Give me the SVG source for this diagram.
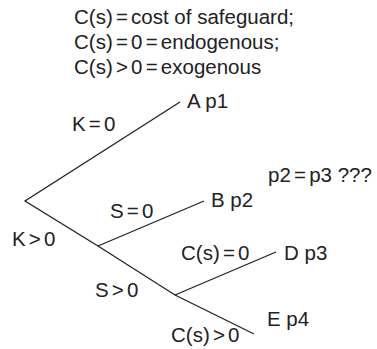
<svg xmlns="http://www.w3.org/2000/svg" width="377" height="349" viewBox="0 0 377 349">
<style>
text{font-family:"Liberation Sans",Arial,sans-serif;font-size:20.5px;fill:#222}
.op{word-spacing:-2.5px}
.e{stroke:#222;stroke-width:1.3;fill:none}
</style>
<rect width="377" height="349" fill="#fff"/>
<g id="legend">
<text x="74" y="24" class="op">C(s) = <tspan style="word-spacing:0">cost of safeguard;</tspan></text>
<text x="74" y="49" class="op">C(s) = 0 = endogenous;</text>
<text x="74" y="74" class="op">C(s) &gt; 0 = exogenous</text>
</g>
<g id="connectors">
<path class="e" d="M180,102 L25,201 L98,246 L175,295 L254,334"/>
<path class="e" d="M98,246 L204,201"/>
<path class="e" d="M175,295 L276,252"/>
</g>
<g id="edge-labels" class="op">
<text x="72" y="131">K = 0</text>
<text x="12" y="246">K &gt; 0</text>
<text x="110" y="218">S = 0</text>
<text x="95" y="297">S &gt; 0</text>
<text x="181" y="260">C(s) = 0</text>
<text x="171" y="342">C(s) &gt; 0</text>
</g>
<g id="nodeA"><text x="187" y="108">A p1</text></g>
<g id="nodeB"><text x="211" y="207">B p2</text></g>
<g id="nodeD"><text x="284" y="260">D p3</text></g>
<g id="nodeE"><text x="267" y="326">E p4</text></g>
<g id="note"><text x="268" y="182"><tspan class="op">p2 = p3</tspan> ???</text></g>
</svg>
